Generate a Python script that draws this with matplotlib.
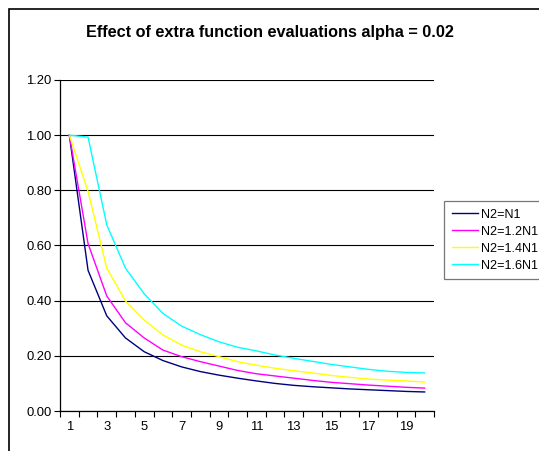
import matplotlib
matplotlib.use('Agg')
import matplotlib.pyplot as plt
from matplotlib.patches import Rectangle

plt.rcParams['font.family'] = ['Liberation Sans', 'DejaVu Sans']

# data
steps = list(range(1, 21))
n2_eq_n1 = [1.00, 0.510, 0.345, 0.265, 0.215, 0.183, 0.160, 0.143, 0.130, 0.119,
            0.109, 0.100, 0.093, 0.088, 0.084, 0.080, 0.077, 0.074, 0.071, 0.069]
n2_12 = [1.00, 0.607, 0.417, 0.320, 0.265, 0.221, 0.197, 0.179, 0.163, 0.147,
         0.135, 0.127, 0.119, 0.111, 0.104, 0.099, 0.094, 0.090, 0.086, 0.083]
n2_14 = [1.00, 0.796, 0.518, 0.399, 0.330, 0.276, 0.239, 0.215, 0.197, 0.179,
         0.166, 0.155, 0.146, 0.138, 0.129, 0.122, 0.116, 0.112, 0.109, 0.105]
n2_16 = [1.00, 0.993, 0.675, 0.518, 0.425, 0.354, 0.308, 0.277, 0.251, 0.231,
         0.218, 0.203, 0.191, 0.180, 0.169, 0.160, 0.151, 0.144, 0.140, 0.138]
series = [("N2=N1", n2_eq_n1, "#000080"),
          ("N2=1.2N1", n2_12, "#FF00FF"),
          ("N2=1.4N1", n2_14, "#FFFF00"),
          ("N2=1.6N1", n2_16, "#00FFFF")]
yticks = [0.0, 0.2, 0.4, 0.6, 0.8, 1.0, 1.2]
xlabels = [str(s) for s in steps if s % 2 == 1]

W, H = 539, 451
fig = plt.figure(figsize=(W / 100, H / 100), dpi=100)

# outer chart border (cut off at right and bottom)
fig.patches.append(Rectangle((9 / W, -0.05), 1.2, 1 - 9 / H + 0.05,
                             transform=fig.transFigure, fill=False,
                             edgecolor='black', linewidth=1.2))

ax = fig.add_axes([60 / W, 1 - 411 / H, 374 / W, 331 / H])
for name, vals, col in series:
    ax.plot(steps, vals, color=col, linewidth=1.0, label=name)

ax.set_xlim(0.5, 20.5)
ax.set_ylim(0, 1.2)
ax.set_yticks(yticks)
ax.set_yticklabels([f"{v:.2f}" for v in yticks], fontsize=9.4)
ax.set_xticks([s - 0.5 for s in steps] + [20.5])
ax.set_xticklabels([])
ax.set_xticks([s for s in steps if s % 2 == 1], minor=True)
ax.set_xticklabels(xlabels, minor=True, fontsize=9.4)
ax.tick_params(axis='x', which='major', direction='out', length=4, width=0.8)
ax.tick_params(axis='x', which='minor', length=0, pad=7)
ax.tick_params(axis='y', direction='out', length=4, width=0.8, pad=2)
ax.yaxis.grid(True, color='black', linewidth=0.8)
ax.set_axisbelow(True)
for side in ['top', 'right']:
    ax.spines[side].set_visible(False)
for side in ['left', 'bottom']:
    ax.spines[side].set_linewidth(0.9)

fig.text(270 / W, 1 - 33 / H, "Effect of extra function evaluations alpha = 0.02",
         ha='center', va='center', fontsize=11.7, fontweight='bold')

leg = fig.legend(loc='upper left', bbox_to_anchor=(444 / W, 1 - 201 / H),
                 fontsize=9.1, frameon=True, fancybox=False, handlelength=2.1,
                 handletextpad=0.25, borderpad=0.6, labelspacing=0.4,
                 borderaxespad=0)
leg.get_frame().set_edgecolor('#555555')
leg.get_frame().set_linewidth(0.9)

fig.savefig("out.png", dpi=100)
